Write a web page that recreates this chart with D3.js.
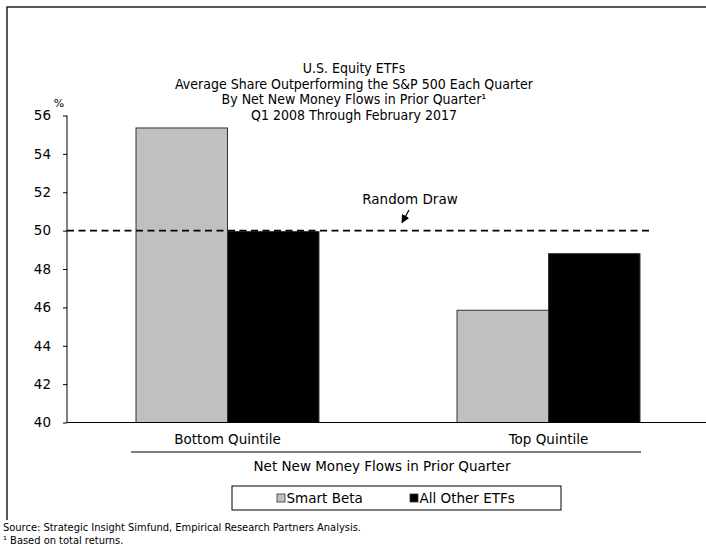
<!DOCTYPE html>
<html>
<head>
<meta charset="utf-8">
<script src="https://cdn.jsdelivr.net/npm/d3@7"></script>
<style>
  body { margin: 0; background: #fff; }
  svg { display: block; }
  text { fill: #000; }
</style>
</head>
<body>
<svg width="706" height="548"></svg>
<script>
// chart data
const categories = ["Bottom Quintile", "Top Quintile"];
const seriesNames = ["Smart Beta", "All Other ETFs"];
const smartBeta = [55.35, 45.85];
const otherEtfs = [49.95, 48.8];
const yTicks = [40, 42, 44, 46, 48, 50, 52, 54, 56];
const randomDraw = 50;
const titleLines = [
  "U.S. Equity ETFs",
  "Average Share Outperforming the S&P 500 Each Quarter",
  "By Net New Money Flows in Prior Quarter\u00b9",
  "Q1 2008 Through February 2017"
];
const footnotes = [
  "Source: Strategic Insight Simfund, Empirical Research Partners Analysis.",
  "\u00b9 Based on total returns."
];

const FONT = "DejaVu Sans, Verdana, sans-serif";
const TITLE_FONT = "DejaVu Sans Condensed, DejaVu Sans, sans-serif";
const COLORS = { "Smart Beta": "#c0c0c0", "All Other ETFs": "#000000" };

const svg = d3.select("svg");

// frame round the chart (only top and left are visible)
svg.append("path")
  .attr("d", "M7,520 L7,7 L706,7")
  .attr("fill", "none")
  .attr("stroke", "#222")
  .attr("stroke-width", 1.5);

// title
svg.append("g")
  .selectAll("text")
  .data(titleLines)
  .join("text")
  .attr("x", 354)
  .attr("y", (d, i) => 73 + i * 15.6)
  .attr("text-anchor", "middle")
  .style("font-family", TITLE_FONT)
  .style("font-size", "14px")
  .text(d => d);

const y = d3.scaleLinear().domain([40, 56]).range([422.5, 115.5]);
const x = d3.scaleBand()
  .domain(categories)
  .range([67, 709])
  .paddingInner(0.43)
  .paddingOuter(0.215);
const xs = d3.scaleBand().domain(seriesNames).range([0, x.bandwidth()]);

const rows = categories.map((c, i) => ({
  cat: c,
  values: [
    { name: seriesNames[0], value: smartBeta[i] },
    { name: seriesNames[1], value: otherEtfs[i] }
  ]
}));

// bars
svg.append("g")
  .selectAll("g")
  .data(rows)
  .join("g")
  .attr("transform", d => `translate(${x(d.cat)},0)`)
  .selectAll("rect")
  .data(d => d.values)
  .join("rect")
  .attr("x", d => xs(d.name))
  .attr("y", d => y(d.value))
  .attr("width", xs.bandwidth())
  .attr("height", d => y(40) - y(d.value))
  .attr("fill", d => COLORS[d.name])
  .attr("stroke", "#333")
  .attr("stroke-width", 1);

// y axis
const yAxis = svg.append("g")
  .attr("transform", "translate(67,0)")
  .call(d3.axisLeft(y).tickValues(yTicks).tickSize(4).tickPadding(12).tickFormat(d3.format("d")));
yAxis.select(".domain").attr("stroke", "#000").attr("d", `M0,${y(40)}V${y(56)}`);
yAxis.selectAll(".tick line").attr("stroke", "#000");
yAxis.selectAll(".tick text")
  .style("font-family", FONT)
  .style("font-size", "13.5px")
  .attr("fill", "#000");

svg.append("text")
  .attr("x", 59)
  .attr("y", 107)
  .attr("text-anchor", "middle")
  .style("font-family", FONT)
  .style("font-size", "11px")
  .text("%");

// x axis baseline
svg.append("line")
  .attr("x1", 67).attr("x2", 706)
  .attr("y1", y(40)).attr("y2", y(40))
  .attr("stroke", "#000")
  .attr("stroke-width", 1.2);

// random draw reference line
svg.append("line")
  .attr("x1", 67).attr("x2", 650)
  .attr("y1", y(randomDraw)).attr("y2", y(randomDraw))
  .attr("stroke", "#000")
  .attr("stroke-width", 1.6)
  .attr("stroke-dasharray", "7,4.5");

svg.append("defs")
  .append("marker")
  .attr("id", "arrow")
  .attr("viewBox", "0 0 10 10")
  .attr("refX", 9)
  .attr("refY", 5)
  .attr("markerWidth", 7)
  .attr("markerHeight", 7)
  .attr("orient", "auto")
  .append("path")
  .attr("d", "M0,0 L10,5 L0,10 Z");

svg.append("line")
  .attr("x1", 409).attr("y1", 210)
  .attr("x2", 402).attr("y2", y(randomDraw) - 8)
  .attr("stroke", "#000")
  .attr("stroke-width", 1.2)
  .attr("marker-end", "url(#arrow)");

svg.append("text")
  .attr("x", 410)
  .attr("y", 204)
  .attr("text-anchor", "middle")
  .style("font-family", FONT)
  .style("font-size", "13.5px")
  .text("Random Draw");

// category labels
svg.append("g")
  .selectAll("text")
  .data(categories)
  .join("text")
  .attr("x", d => x(d) + x.bandwidth() / 2)
  .attr("y", 444)
  .attr("text-anchor", "middle")
  .style("font-family", FONT)
  .style("font-size", "13.5px")
  .text(d => d);

svg.append("line")
  .attr("x1", 131).attr("x2", 641)
  .attr("y1", 452).attr("y2", 452)
  .attr("stroke", "#000")
  .attr("stroke-width", 1.2);

svg.append("text")
  .attr("x", 382)
  .attr("y", 471)
  .attr("text-anchor", "middle")
  .style("font-family", FONT)
  .style("font-size", "13.5px")
  .text("Net New Money Flows in Prior Quarter");

// legend
const legend = svg.append("g");
legend.append("rect")
  .attr("x", 232).attr("y", 486)
  .attr("width", 329).attr("height", 24)
  .attr("fill", "#fff")
  .attr("stroke", "#000")
  .attr("stroke-width", 1);

const legendX = [277, 410];
const items = legend.selectAll("g.item")
  .data(seriesNames)
  .join("g")
  .attr("class", "item")
  .attr("transform", (d, i) => `translate(${legendX[i]},498)`);
items.append("rect")
  .attr("x", 0).attr("y", -4)
  .attr("width", 8).attr("height", 8)
  .attr("fill", d => COLORS[d])
  .attr("stroke", "#333")
  .attr("stroke-width", 0.8);
items.append("text")
  .attr("x", 9.5)
  .attr("y", 5)
  .style("font-family", FONT)
  .style("font-size", "13.5px")
  .text(d => d);

// footnotes
svg.append("g")
  .selectAll("text")
  .data(footnotes)
  .join("text")
  .attr("x", 3)
  .attr("y", (d, i) => 531 + i * 12.5)
  .style("font-family", TITLE_FONT)
  .style("font-size", "11px")
  .text(d => d);
</script>
</body>
</html>
